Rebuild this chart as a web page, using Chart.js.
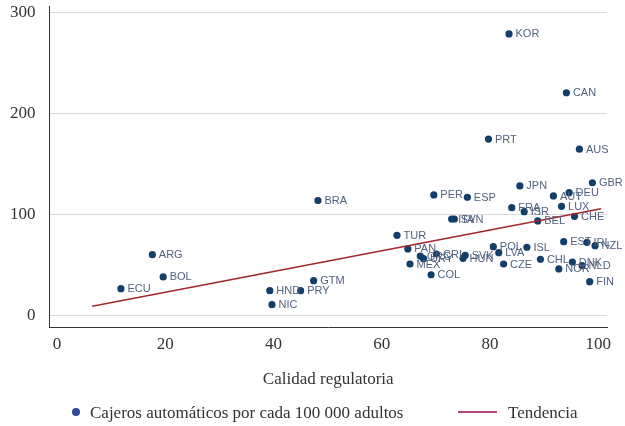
<!DOCTYPE html>
<html><head><meta charset="utf-8">
<script src="https://cdn.jsdelivr.net/npm/chart.js@4.4.1/dist/chart.umd.min.js"></script>
<style>html,body{margin:0;padding:0;background:#fff}</style>
</head><body>
<canvas id="c" width="625" height="426"></canvas>
<script>
const countries = ["KOR","CAN","PRT","AUS","GBR","JPN","DEU","AUT","PER","ESP","BRA","LUX","FRA","ISR","CHE","SVN","ITA","BEL","TUR","EST","IRL","NZL","POL","ISL","PAN","LVA","CRI","ARG","SVK","GRC","HUN","URY","CHL","DNK","MEX","CZE","NLD","NOR","COL","BOL","GTM","FIN","ECU","HND","PRY","NIC"];
const regQuality = [83.5,94.1,79.7,96.5,98.9,85.5,94.6,91.7,69.6,75.8,48.2,93.2,84.0,86.3,95.6,73.4,72.9,88.8,62.8,93.6,97.9,99.4,80.6,86.8,64.8,81.6,70.1,17.6,75.4,67.1,75.0,67.7,89.3,95.2,65.2,82.5,97.0,92.7,69.1,19.6,47.4,98.4,11.8,39.3,45.0,39.7];
const atms = [279,220.8,175,165,131.8,128.6,122,118.7,119.7,117.4,114.2,108.5,107.1,103.2,98.6,95.9,95.9,94,79.8,73.5,72.9,69.5,68.5,68,66.3,62.6,61.3,60.6,60,59.3,57,56.7,56.1,53.4,51.4,51.4,49.8,46.5,40.8,38.6,34.9,33.9,27,25,25,11.2];
const trendX = [6.5, 100.5];
const trendY = [9.6, 106];
const xTicks = [0,20,40,60,80,100];
const yTicks = [0,100,200,300];
const seriesName = "Cajeros automáticos por cada 100 000 adultos";
const trendName = "Tendencia";
const xTitle = "Calidad regulatoria";

const SERIF = '"Liberation Serif", serif';
const SANS = '"Liberation Sans", Arial, sans-serif';

const pointLabels = {
  id: 'pointLabels',
  afterDatasetsDraw(chart) {
    const ctx = chart.ctx;
    const meta = chart.getDatasetMeta(1);
    ctx.save();
    ctx.font = '11px ' + SANS;
    ctx.fillStyle = '#52627f';
    ctx.textBaseline = 'middle';
    ctx.textAlign = 'left';
    meta.data.forEach((el, i) => {
      ctx.fillText(countries[i], el.x + 6.5, el.y + 0.5);
    });
    ctx.restore();
  }
};

const customLegend = {
  id: 'customLegend',
  afterDraw(chart) {
    const ctx = chart.ctx;
    const y = 413.5;
    ctx.save();
    ctx.fillStyle = '#2f4a9c';
    ctx.beginPath();
    ctx.arc(76, 412, 4, 0, Math.PI * 2);
    ctx.fill();
    ctx.font = '17px ' + SERIF;
    ctx.fillStyle = '#333333';
    ctx.textBaseline = 'middle';
    ctx.fillText(seriesName, 90, y);
    ctx.strokeStyle = '#b3437c';
    ctx.lineWidth = 2;
    ctx.beginPath();
    ctx.moveTo(458, 412);
    ctx.lineTo(497, 412);
    ctx.stroke();
    ctx.fillText(trendName, 508, y);
    ctx.restore();
  }
};

new Chart(document.getElementById('c'), {
  type: 'scatter',
  data: {
    datasets: [
      {
        type: 'line',
        label: trendName,
        data: trendX.map((x, i) => ({x, y: trendY[i]})),
        borderColor: '#a3282e',
        borderWidth: 1.5,
        pointRadius: 0,
        fill: false,
        order: 0
      },
      {
        label: seriesName,
        data: regQuality.map((x, i) => ({x, y: atms[i]})),
        backgroundColor: '#123e6a',
        borderColor: '#123e6a',
        pointRadius: 3.6,
        pointBorderWidth: 0,
        order: 1
      }
    ]
  },
  options: {
    responsive: false,
    animation: false,
    devicePixelRatio: 1,
    layout: { padding: { left: 0, right: 18, top: 6, bottom: 30 } },
    plugins: { legend: { display: false }, tooltip: { enabled: false } },
    scales: {
      x: {
        type: 'linear',
        min: -1.4,
        max: 101.6,
        afterBuildTicks(s) { s.ticks = xTicks.map(v => ({value: v})); },
        afterFit(s) { s.height = 69; s.paddingLeft = 0; s.paddingRight = 0; },
        grid: { display: false, drawTicks: false },
        border: { display: true, color: '#333333', width: 1 },
        ticks: { font: { family: SERIF, size: 17 }, color: '#333333', padding: 7, maxRotation: 0 },
        title: { display: true, text: xTitle, font: { family: SERIF, size: 17 }, color: '#333333', padding: { top: 4, bottom: 6 } }
      },
      y: {
        type: 'linear',
        min: -10.9,
        max: 306.6,
        afterBuildTicks(s) { s.ticks = yTicks.map(v => ({value: v})); },
        afterFit(s) { s.width = 49.5; s.paddingTop = 0; s.paddingBottom = 0; },
        grid: { display: true, color: '#d9d9d9', lineWidth: 1, drawTicks: false },
        border: { display: true, color: '#333333', width: 1 },
        ticks: { font: { family: SERIF, size: 17 }, color: '#333333', padding: 14 }
      }
    }
  },
  plugins: [pointLabels, customLegend]
});
</script>
</body></html>
